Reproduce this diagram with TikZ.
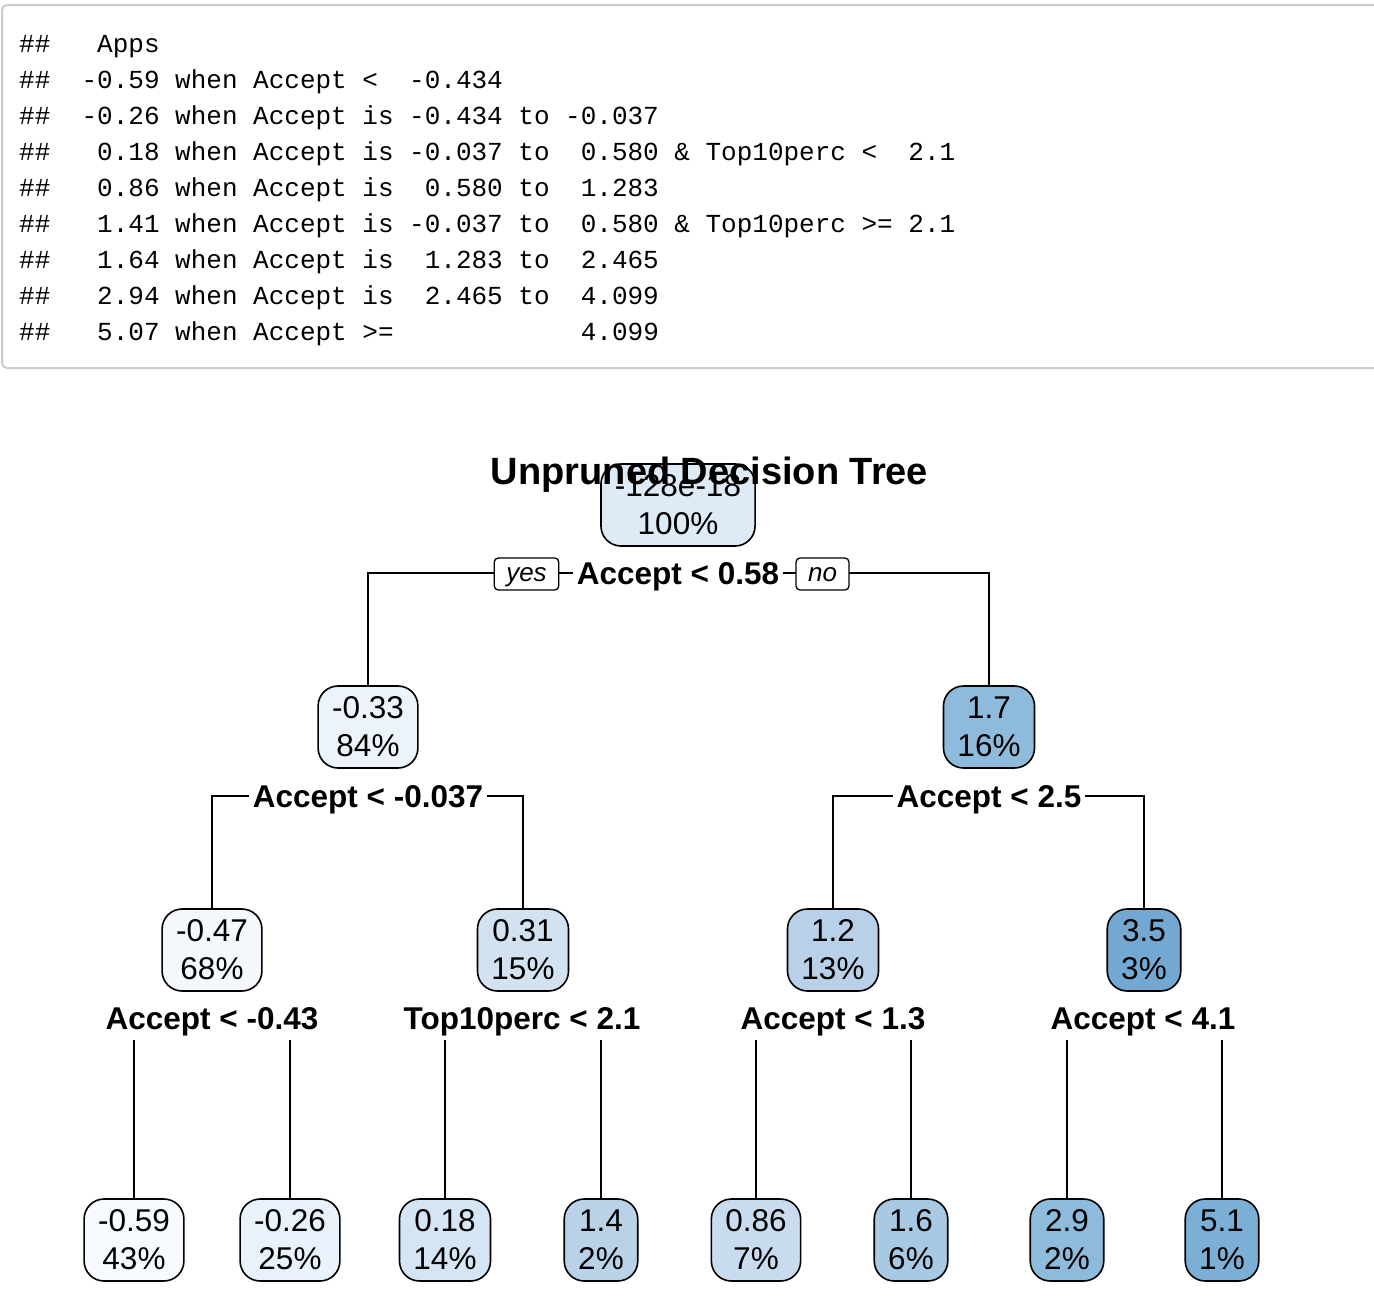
\documentclass[tikz,border=0pt]{standalone}
\usepackage{fontspec}
\setmainfont{Liberation Sans}
\setmonofont{Liberation Mono}
\usetikzlibrary{backgrounds}

\definecolor{codeframe}{HTML}{CCCCCC}
\definecolor{bl0}{HTML}{F7FBFF}
\definecolor{bl1}{HTML}{F4F8FD}
\definecolor{bl2}{HTML}{E9F1FA}
\definecolor{bl3}{HTML}{ECF3FB}
\definecolor{bl4}{HTML}{DEEAF6}
\definecolor{bl5}{HTML}{D6E5F3}
\definecolor{bl6}{HTML}{D3E2F1}
\definecolor{bl7}{HTML}{C9DBEE}
\definecolor{bl8}{HTML}{B9D2E8}
\definecolor{bl9}{HTML}{B8D1E8}
\definecolor{bl10}{HTML}{A8C9E3}
\definecolor{bl11}{HTML}{8EBBDB}
\definecolor{bl12}{HTML}{7BAFD6}
\definecolor{bl13}{HTML}{72A8D2}

\begin{document}
\frenchspacing
\begin{tikzpicture}[x=1pt,y=-1pt,
    codeline/.style={anchor=base west,inner sep=0pt,font=\ttfamily\fontsize{26}{36}\selectfont},
    tnode/.style={draw,line width=1.6pt,rounded corners=20pt,align=center,inner xsep=14pt,inner ysep=0pt,minimum height=82pt,font=\fontsize{31.5}{38}\selectfont},
    splitlab/.style={fill=white,inner xsep=4pt,inner ysep=10.5pt,text height=22.6pt,text depth=0pt,font=\bfseries\fontsize{31.5}{38}\selectfont},
    yesno/.style={draw,fill=white,line width=1.3pt,rounded corners=4pt,inner xsep=12pt,inner ysep=0pt,minimum height=32pt,text height=15pt,text depth=1pt,font=\itshape\fontsize{26}{32}\selectfont},
    link/.style={line width=1.3pt}]
    \useasboundingbox (0,0) rectangle (1374,1302);

    % printed rules
    \draw[codeframe,line width=2pt,rounded corners=5pt] (2,5) rectangle (1400,368);
    \foreach \txt [count=\i from 0] in {
        {\#\#~~~Apps},
        {\#\#~~-0.59~when~Accept~<~~-0.434},
        {\#\#~~-0.26~when~Accept~is~-0.434~to~-0.037},
        {\#\#~~~0.18~when~Accept~is~-0.037~to~~0.580~\&~Top10perc~<~~2.1},
        {\#\#~~~0.86~when~Accept~is~~0.580~to~~1.283},
        {\#\#~~~1.41~when~Accept~is~-0.037~to~~0.580~\&~Top10perc~>=~2.1},
        {\#\#~~~1.64~when~Accept~is~~1.283~to~~2.465},
        {\#\#~~~2.94~when~Accept~is~~2.465~to~~4.099},
        {\#\#~~~5.07~when~Accept~>=~~~~~~~~~~~~4.099}}
        \node[codeline] (code\i) at (19,{52+36*\i}) {\txt};

    % tree
    \node[tnode,fill=bl4] (root) at (678,505) {-128e-18\\100\%};
    \node[splitlab] (s1) at (678,573) {Accept < 0.58};
    \node[yesno] (yes) at (526.5,574) {yes};
    \node[yesno] (no) at (822.5,574) {no};

    \node[tnode,fill=bl3] (n2) at (368,727) {-0.33\\84\%};
    \node[tnode,fill=bl11] (n3) at (989,727) {1.7\\16\%};
    \node[splitlab] (s2) at (368,796) {Accept < -0.037};
    \node[splitlab] (s3) at (989,796) {Accept < 2.5};

    \node[tnode,fill=bl1] (n4) at (212,950) {-0.47\\68\%};
    \node[tnode,fill=bl6] (n5) at (523,950) {0.31\\15\%};
    \node[tnode,fill=bl9] (n6) at (833,950) {1.2\\13\%};
    \node[tnode,fill=bl13] (n7) at (1144,950) {3.5\\3\%};
    \node[splitlab] (s4) at (212,1018) {Accept < -0.43};
    \node[splitlab] (s5) at (522,1018) {Top10perc < 2.1};
    \node[splitlab] (s6) at (833,1018) {Accept < 1.3};
    \node[splitlab] (s7) at (1143,1018) {Accept < 4.1};

    \node[tnode,fill=bl0] (l1) at (134,1240) {-0.59\\43\%};
    \node[tnode,fill=bl2] (l2) at (290,1240) {-0.26\\25\%};
    \node[tnode,fill=bl5] (l3) at (445,1240) {0.18\\14\%};
    \node[tnode,fill=bl8] (l4) at (601,1240) {1.4\\2\%};
    \node[tnode,fill=bl7] (l5) at (756,1240) {0.86\\7\%};
    \node[tnode,fill=bl10] (l6) at (911,1240) {1.6\\6\%};
    \node[tnode,fill=bl11] (l7) at (1067,1240) {2.9\\2\%};
    \node[tnode,fill=bl12] (l8) at (1222,1240) {5.1\\1\%};

    \begin{scope}[on background layer]
        \fill[white] (0,0) rectangle (1374,1302);
        \draw[link] (s1.center) -| (n2.north);
        \draw[link] (s1.center) -| (n3.north);
        \draw[link] (s2.center) -| (n4.north);
        \draw[link] (s2.center) -| (n5.north);
        \draw[link] (s3.center) -| (n6.north);
        \draw[link] (s3.center) -| (n7.north);
        \draw[link] (s4.center) -| (l1.north);
        \draw[link] (s4.center) -| (l2.north);
        \draw[link] (s5.center) -| (l3.north);
        \draw[link] (s5.center) -| (l4.north);
        \draw[link] (s6.center) -| (l5.north);
        \draw[link] (s6.center) -| (l6.north);
        \draw[link] (s7.center) -| (l7.north);
        \draw[link] (s7.center) -| (l8.north);
    \end{scope}

    \node[font=\bfseries\fontsize{38}{46}\selectfont,anchor=base,inner sep=0pt] (title) at (709.5,484) {Unpruned Decision Tree};
\end{tikzpicture}
\end{document}
